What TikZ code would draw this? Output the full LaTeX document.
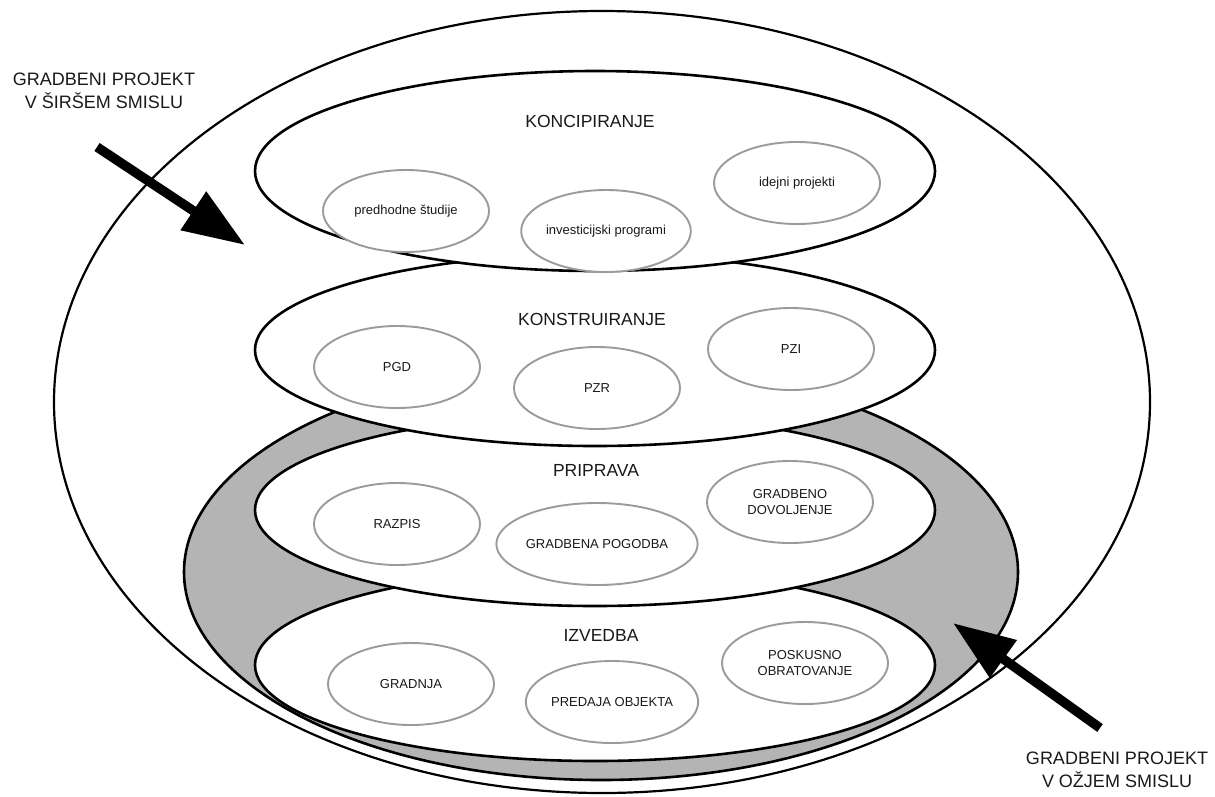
\documentclass[tikz,border=0pt]{standalone}
\usepackage{fontspec}
\setmainfont{Liberation Sans}
\usetikzlibrary{shapes.geometric,arrows.meta}
\definecolor{ringgray}{RGB}{180,180,180}
\definecolor{itemline}{RGB}{155,155,155}
\definecolor{inktext}{RGB}{25,25,25}
\begin{document}
\begin{tikzpicture}[x=1pt,y=-1pt,
  layer/.style={draw=black, line width=2.6pt, fill=white, ellipse,
    minimum width=680pt, minimum height=192pt, inner sep=0pt},
  item/.style={draw=itemline, line width=1.9pt, fill=white, ellipse,
    minimum width=166pt, minimum height=82pt, inner sep=0pt,
    font=\fontsize{13}{15.5}\selectfont, align=center, text=inktext},
  title/.style={font=\fontsize{17.5}{21}\selectfont, anchor=base, text=inktext},
  caption/.style={font=\fontsize{18}{23}\selectfont, align=center, text=inktext},
  bigarrow/.style={line width=9.5pt, -{Triangle[length=62pt,width=44pt]}},
]
\useasboundingbox (0,0) rectangle (1215,796);

% project in the wide sense
\node[ellipse, draw=black, line width=2.2pt, inner sep=0pt,
  minimum width=1096pt, minimum height=782pt] (wide) at (602,402) {};
% project in the narrow sense (grey ring)
\node[ellipse, draw=black, line width=2.6pt, fill=ringgray, inner sep=0pt,
  minimum width=834pt, minimum height=416pt] (narrow) at (601,572) {};

% IZVEDBA
\node[layer] (izv) at (595,665) {};
\node[title] (izvT) at (601,641) {IZVEDBA};
\node[item] (gradnja) at (411,684) {GRADNJA};
\node[item] (predaja) at (612,702) {PREDAJA OBJEKTA};
\node[item] (poskus) at (805,663) {POSKUSNO\\OBRATOVANJE};

% PRIPRAVA
\node[layer] (pri) at (595,510) {};
\node[title] (priT) at (596,476) {PRIPRAVA};
\node[item] (razpis) at (397,524) {RAZPIS};
\node[item] (pogodba) at (597,544) {GRADBENA POGODBA};
\node[item] (dovol) at (790,502) {GRADBENO\\DOVOLJENJE};

% KONSTRUIRANJE
\node[layer] (kon) at (595,350) {};
\node[title] (konT) at (592,325) {KONSTRUIRANJE};
\node[item] (pgd) at (397,367) {PGD};
\node[item] (pzr) at (597,388) {PZR};
\node[item] (pzi) at (791,349) {PZI};

% KONCIPIRANJE
\node[layer, minimum height=200pt] (koc) at (595,171) {};
\node[title] (kocT) at (590,127) {KONCIPIRANJE};
\node[item] (studije) at (406,211) {predhodne študije};
\node[item] (invest) at (606,231) {investicijski programi};
\node[item] (idejni) at (797,183) {idejni projekti};

% arrows and captions
\coordinate (tailA) at (97,147);
\coordinate (tipA) at (245,245);
\coordinate (tailB) at (1100,728);
\coordinate (tipB) at (953,623);
\draw[bigarrow] (tailA) -- (tipA);
\draw[bigarrow] (tailB) -- (tipB);

\node[caption] (capA) at (104,91) {GRADBENI PROJEKT\\V ŠIRŠEM SMISLU};
\node[caption] (capB) at (1117,770) {GRADBENI PROJEKT\\V OŽJEM SMISLU};
\end{tikzpicture}
\end{document}
